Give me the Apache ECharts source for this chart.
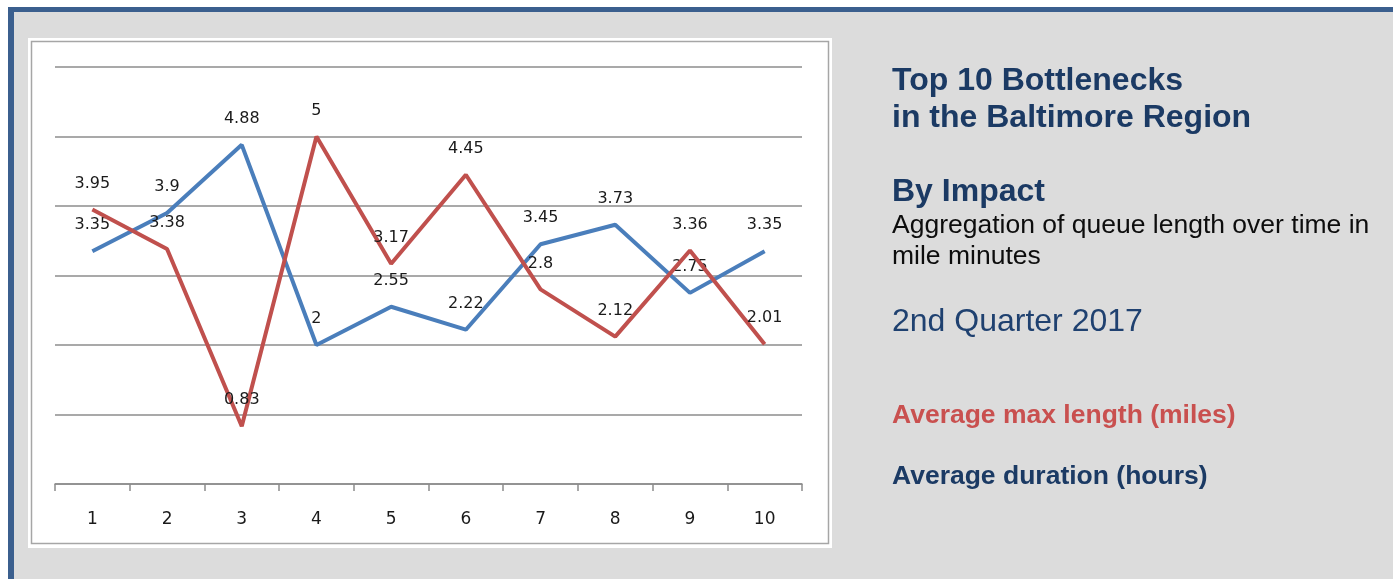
<!DOCTYPE html>
<html><head><meta charset="utf-8">
<script src="https://cdn.jsdelivr.net/npm/echarts@6/dist/echarts.min.js"></script>
<style>html,body{margin:0;padding:0;background:#fff}#c{width:1393px;height:579px}</style>
</head><body><div id="c"></div>
<script>
const categories = ['1','2','3','4','5','6','7','8','9','10'];
const avgMaxLength = [3.95, 3.38, 0.83, 5, 3.17, 4.45, 2.8, 2.12, 3.36, 2.01];
const avgDuration = [3.35, 3.9, 4.88, 2, 2.55, 2.22, 3.45, 3.73, 2.75, 3.35];
const yTicks = [0, 1, 2, 3, 4, 5, 6];

const chart = echarts.init(document.getElementById('c'), null, {renderer: 'canvas'});
const navy = '#1b3a64';
const labelStyle = {show: true, position: 'top', distance: 18, color: '#1a1a1a', fontFamily: 'DejaVu Sans', fontSize: 16};
chart.setOption({
  animation: false,
  graphic: [
    {type: 'rect', z: -20, shape: {x: 8, y: 7, width: 1385, height: 572}, style: {fill: '#3b5f8e'}},
    {type: 'rect', z: -19, shape: {x: 14, y: 12, width: 1379, height: 567}, style: {fill: '#dcdcdc'}},
    {type: 'rect', z: -18, shape: {x: 28, y: 38, width: 804, height: 510}, style: {fill: '#ffffff'}},
    {type: 'rect', z: -17, shape: {x: 31.5, y: 41.5, width: 797, height: 502}, style: {fill: 'none', stroke: '#a6a6a6', lineWidth: 1.5}},
    {type: 'text', left: 892, top: 63, style: {text: 'Top 10 Bottlenecks\nin the Baltimore Region', fill: navy, font: 'bold 32px "Liberation Sans"', lineHeight: 37}},
    {type: 'text', left: 892, top: 176, style: {text: 'By Impact', fill: navy, font: 'bold 32px "Liberation Sans"'}},
    {type: 'text', left: 892, top: 210, style: {text: 'Aggregation of queue length over time in\nmile minutes', fill: '#0d0d0d', font: '26.5px "Liberation Sans"', lineHeight: 31}},
    {type: 'text', left: 892, top: 306, style: {text: '2nd Quarter 2017', fill: '#1f4170', font: '32px "Liberation Sans"'}},
    {type: 'text', left: 892, top: 402, style: {text: 'Average max length (miles)', fill: '#c9504f', font: 'bold 26.5px "Liberation Sans"'}},
    {type: 'text', left: 892, top: 463, style: {text: 'Average duration (hours)', fill: navy, font: 'bold 26.5px "Liberation Sans"'}}
  ],
  grid: {left: 55, right: 591, top: 67, bottom: 95, containLabel: false},
  xAxis: {
    type: 'category', data: categories, boundaryGap: true,
    axisLine: {lineStyle: {color: '#8c8c8c', width: 1.5}},
    axisTick: {show: true, length: 7, lineStyle: {color: '#8c8c8c', width: 1.5}},
    axisLabel: {color: '#1a1a1a', fontFamily: 'DejaVu Sans', fontSize: 17, margin: 27},
    splitLine: {show: false}
  },
  yAxis: {
    type: 'value', min: yTicks[0], max: yTicks[yTicks.length - 1], interval: 1,
    axisLine: {show: false}, axisTick: {show: false}, axisLabel: {show: false},
    splitLine: {lineStyle: {color: '#8c8c8c', width: 1.5}}
  },
  series: [
    {name: 'Average duration (hours)', type: 'line', data: avgDuration, symbol: 'circle', symbolSize: 0, showSymbol: true,
      lineStyle: {color: '#4a7ebb', width: 4}, itemStyle: {color: '#4a7ebb'}, label: labelStyle, z: 3},
    {name: 'Average max length (miles)', type: 'line', data: avgMaxLength, symbol: 'circle', symbolSize: 0, showSymbol: true,
      lineStyle: {color: '#c0504d', width: 4}, itemStyle: {color: '#c0504d'}, label: labelStyle, z: 4}
  ]
});
</script></body></html>
